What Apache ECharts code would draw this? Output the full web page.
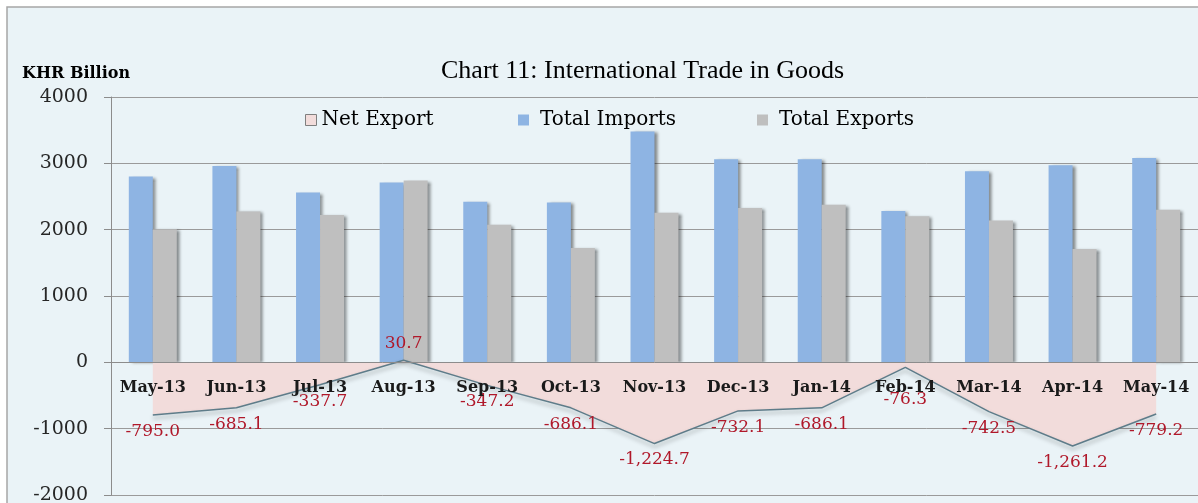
<!DOCTYPE html>
<html>
<head>
<meta charset="utf-8">
<script src="https://cdn.jsdelivr.net/npm/echarts@6/dist/echarts.min.js"></script>
<style>
html,body{margin:0;padding:0;background:#fff;}
#chart{width:1198px;height:503px;}
</style>
</head>
<body>
<div id="chart"></div>
<script>
var categories = ['May-13','Jun-13','Jul-13','Aug-13','Sep-13','Oct-13','Nov-13','Dec-13','Jan-14','Feb-14','Mar-14','Apr-14','May-14'];
var totalImports = [2800, 2960, 2560, 2710, 2420, 2410, 3480, 3060, 3060, 2280, 2880, 2970, 3080];
var totalExports = [2005, 2275, 2222, 2741, 2073, 1724, 2255, 2328, 2374, 2204, 2137, 1709, 2301];
var netExport = [-795.0, -685.1, -337.7, 30.7, -347.2, -686.1, -1224.7, -732.1, -686.1, -76.3, -742.5, -1261.2, -779.2];
var yTicks = {min: -2000, max: 4000, interval: 1000};

function fmt(v) {
  var s = Math.abs(v).toFixed(1).split('.');
  s[0] = s[0].replace(/\B(?=(\d{3})+(?!\d))/g, ',');
  return (v < 0 ? '-' : '') + s[0] + '.' + s[1];
}

var serif = '"DejaVu Serif", "Liberation Serif", serif';
// labels: above for positive values; pushed clear of the category labels when the point sits near zero
var netData = netExport.map(function (v) {
  if (v >= 0) return {value: v, label: {position: 'top'}};
  if (v > -300) return {value: v, label: {distance: 24}};
  return {value: v};
});

var chart = echarts.init(document.getElementById('chart'));
chart.setOption({
  backgroundColor: '#ffffff',
  animation: false,
  graphic: [{
    type: 'rect', z: -10, silent: true,
    shape: {x: 7, y: 7, width: 1200, height: 500},
    style: {fill: '#EAF3F7', stroke: '#A6A6A6', lineWidth: 1.5}
  }],
  title: [
    {text: 'Chart 11: International Trade in Goods', left: 436, top: 53,
     textStyle: {fontFamily: '"Liberation Serif", serif', fontSize: 26, fontWeight: 'normal', color: '#000'}},
    {text: 'KHR Billion', left: 17, top: 61,
     textStyle: {fontFamily: serif, fontSize: 16, fontWeight: 'bold', color: '#000'}}
  ],
  legend: [
    {left: 305, top: 110, padding: 0, itemWidth: 11, itemHeight: 11, icon: 'rect',
     textStyle: {fontFamily: serif, fontSize: 20, color: '#000', padding: [0, 0, 0, 0]},
     data: [{name: 'Net Export', itemStyle: {color: '#F2DCDB', borderColor: '#7F7F7F', borderWidth: 1}}]},
    {left: 518, top: 110, padding: 0, itemWidth: 11, itemHeight: 11, icon: 'rect',
     textStyle: {fontFamily: serif, fontSize: 20, color: '#000', padding: [0, 0, 0, 6]},
     data: ['Total Imports']},
    {left: 757, top: 110, padding: 0, itemWidth: 11, itemHeight: 11, icon: 'rect',
     textStyle: {fontFamily: serif, fontSize: 20, color: '#000', padding: [0, 0, 0, 6]},
     data: ['Total Exports']}
  ],
  grid: {left: 111, right: 0, top: 97, bottom: 8, containLabel: false, outerBoundsMode: 'none'},
  xAxis: {
    type: 'category',
    data: categories,
    offset: -133,
    z: 10,
    axisLine: {onZero: false, lineStyle: {color: '#8C8C8C', width: 1}},
    axisTick: {show: false},
    axisLabel: {interval: 0, margin: 18, fontFamily: serif, fontSize: 16, fontWeight: 'bold', color: '#1a1a1a'}
  },
  yAxis: {
    type: 'value',
    min: yTicks.min, max: yTicks.max, interval: yTicks.interval,
    axisLine: {show: true, lineStyle: {color: '#8C8C8C'}},
    axisTick: {show: true, length: 7, lineStyle: {color: '#8C8C8C'}},
    splitLine: {lineStyle: {color: '#9A9A9A', width: 1}},
    axisLabel: {margin: 23, fontFamily: serif, fontSize: 19, color: '#262626',
                formatter: function (v) { return String(v); }}
  },
  series: [
    {
      name: 'Net Export', type: 'line', data: netData, z: 4,
      symbol: 'circle', symbolSize: 0, showSymbol: true,
      lineStyle: {color: '#5E7C89', width: 1.5, shadowColor: 'rgba(0,0,0,0.35)', shadowBlur: 4, shadowOffsetY: 3},
      itemStyle: {color: '#F2DCDB'},
      areaStyle: {color: '#F2DCDB', opacity: 1},
      label: {show: true, position: 'bottom', distance: 8, formatter: function (p) { return fmt(p.value); },
              fontFamily: serif, fontSize: 17, color: '#B0182A'}
    },
    {
      name: 'Total Imports', type: 'bar', data: totalImports, barWidth: 24, barGap: '0%', z: 3,
      itemStyle: {color: '#8EB4E3', shadowColor: 'rgba(0,0,0,0.45)', shadowBlur: 3, shadowOffsetX: 3, shadowOffsetY: 1}
    },
    {
      name: 'Total Exports', type: 'bar', data: totalExports, barWidth: 24, barGap: '0%', z: 3,
      itemStyle: {color: '#BFBFBF', shadowColor: 'rgba(0,0,0,0.45)', shadowBlur: 3, shadowOffsetX: 3, shadowOffsetY: 1}
    }
  ]
});
</script>
</body>
</html>
